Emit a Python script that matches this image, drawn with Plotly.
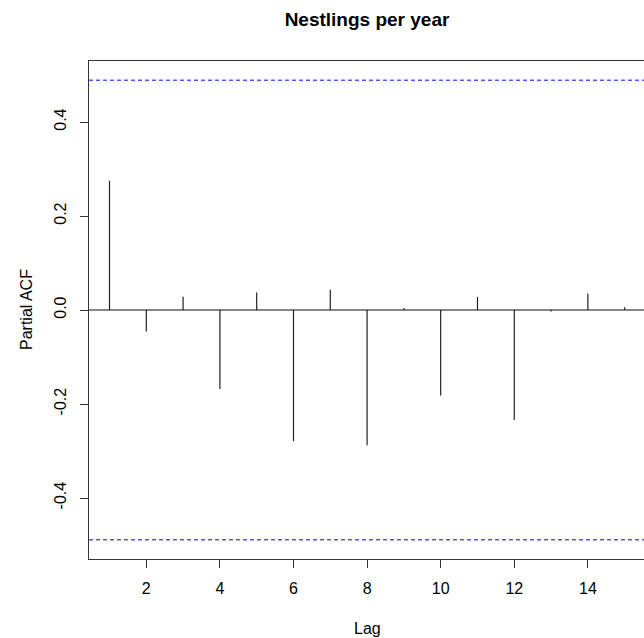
import plotly.graph_objects as go

lags = list(range(1, 16))
pacf = [0.275, -0.046, 0.028, -0.168, 0.037, -0.279, 0.043, -0.288, 0.004,
        -0.182, 0.028, -0.234, -0.003, 0.035, 0.006]
ci = 0.489
x_ticks = [2, 4, 6, 8, 10, 12, 14]
y_ticks = [-0.4, -0.2, 0.0, 0.2, 0.4]
y_tick_text = ["-0.4", "-0.2", "0.0", "0.2", "0.4"]

xs, ys = [], []
for l, v in zip(lags, pacf):
    xs += [l, l, None]
    ys += [0, v, None]

fig = go.Figure()
fig.add_trace(go.Scatter(x=xs, y=ys, mode="lines",
                         line=dict(color="#222222", width=1.2),
                         hoverinfo="skip", showlegend=False))

xr = [0.443, 15.525]
fig.add_trace(go.Scatter(x=xr, y=[0, 0], mode="lines",
                         line=dict(color="#111111", width=1.2), showlegend=False))
for c in (ci, -ci):
    fig.add_trace(go.Scatter(x=xr, y=[c, c], mode="lines",
                             line=dict(color="blue", width=1, dash="4px,3px"),
                             showlegend=False))

fig.update_layout(
    width=644, height=638,
    margin=dict(l=89, r=0, t=61, b=79),
    paper_bgcolor="white", plot_bgcolor="white",
    font=dict(family="Liberation Sans, Arial, sans-serif", size=16, color="black"),
    showlegend=False,
    title=dict(text="<b>Nestlings per year</b>", x=(367) / 644, xanchor="center",
               y=1 - 19 / 638, yanchor="middle",
               font=dict(size=19, color="black")),
)
fig.update_xaxes(range=xr, tickvals=x_ticks, ticks="outside", ticklen=8,
                 tickcolor="#333333", showline=True, linecolor="#333333",
                 linewidth=1.2, mirror=True, showgrid=False, zeroline=False,
                 ticklabelstandoff=7, tickfont=dict(size=16))
fig.update_yaxes(range=[-0.5298, 0.5298], tickvals=y_ticks, ticktext=y_tick_text,
                 ticks="outside", ticklen=8, tickcolor="#333333",
                 showline=True, linecolor="#333333", linewidth=1.2, mirror=False,
                 showgrid=False, zeroline=False, tickangle=-90,
                 ticklabelstandoff=8, tickfont=dict(size=16))

fig.add_annotation(text="Lag", xref="paper", yref="paper", x=(367 - 89) / 555,
                   y=0, yanchor="middle", yshift=-(628 - 559), showarrow=False,
                   font=dict(size=16))
fig.add_annotation(text="Partial ACF", xref="paper", yref="paper", x=0,
                   xanchor="center", xshift=-(89 - 26), y=0.5, textangle=-90,
                   showarrow=False, font=dict(size=16))

fig.write_html(
    "out.html",
    config={"displayModeBar": False},
    post_script="document.body.style.margin='0';document.body.style.overflow='hidden';",
)
